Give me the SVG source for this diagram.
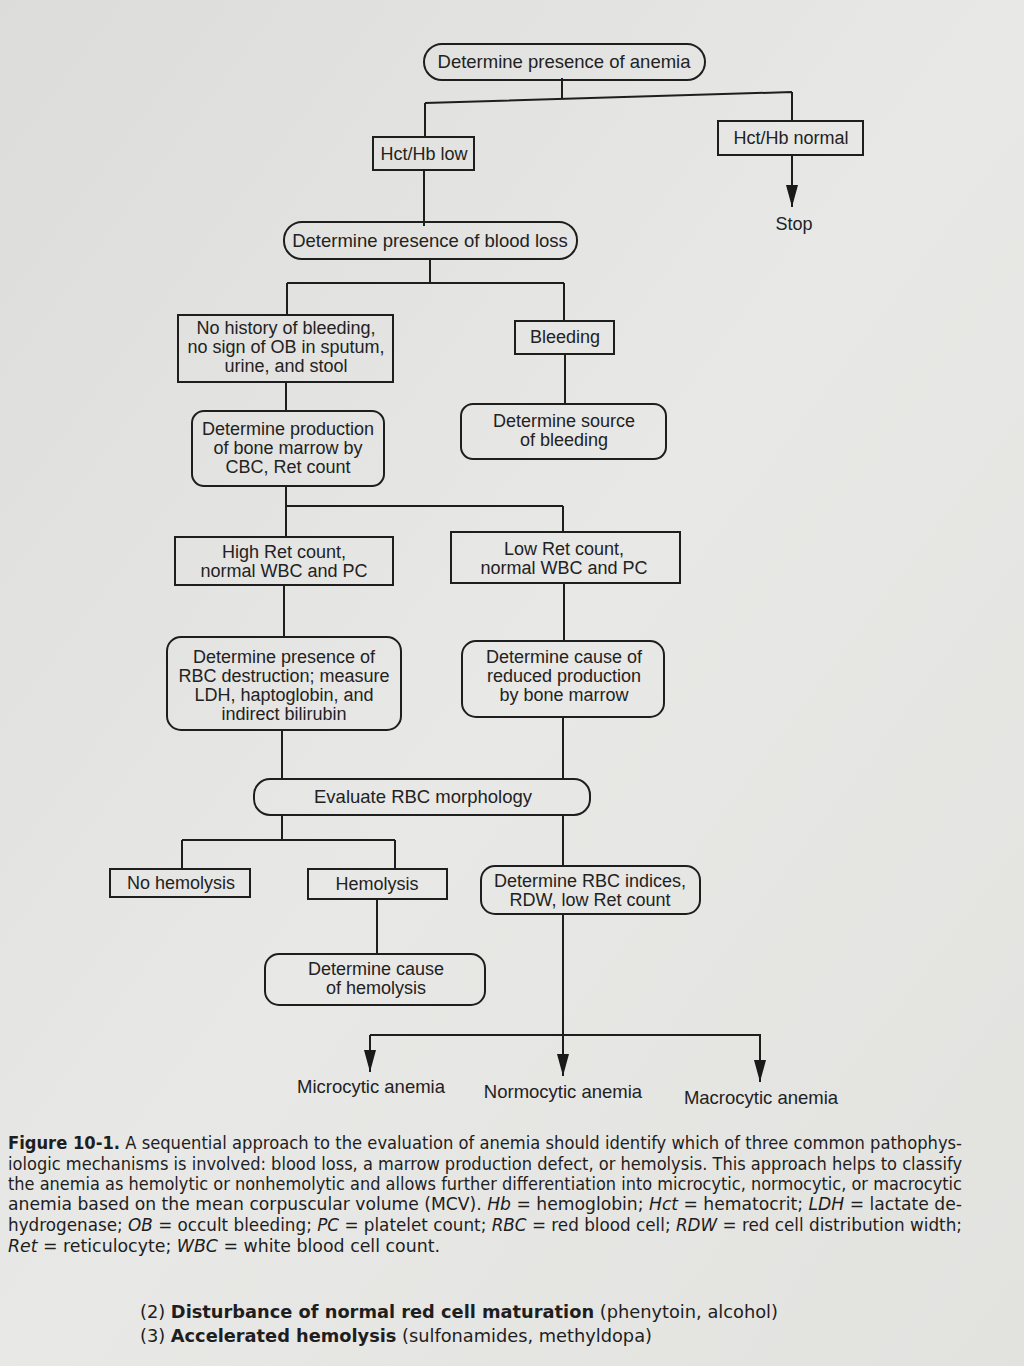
<svg xmlns="http://www.w3.org/2000/svg" width="1024" height="1366" viewBox="0 0 1024 1366">
<defs>
<linearGradient id="bg" x1="0" y1="0" x2="1" y2="1">
<stop offset="0" stop-color="#dcdcda"/>
<stop offset="0.5" stop-color="#e8e8e6"/>
<stop offset="1" stop-color="#e2e2df"/>
</linearGradient>
<marker id="arr" viewBox="0 0 22 12" refX="22" refY="6" markerWidth="22" markerHeight="12" markerUnits="userSpaceOnUse" orient="auto">
<path d="M0,0 L22,6 L0,12 Z" fill="#1a1a1a"/>
</marker>
<style>
.box{fill:none;stroke:#1e1e1e;stroke-width:2}
.t{font-family:"Liberation Sans",Arial,sans-serif;font-size:18px;fill:#222;text-anchor:middle}
.s{font-size:18.5px}
.c{fill:none;stroke:#1e1e1e;stroke-width:2}
.cap{font-family:"Liberation Sans Narrow","DejaVu Sans Condensed","Liberation Sans",sans-serif;font-size:17.5px;fill:#1e1e1e}
.b{font-weight:bold}
.i{font-style:italic}
</style>
</defs>
<rect width="1024" height="1366" fill="url(#bg)"/>

<g id="connectors">
<path class="c" d="M562,78 V100 M425,103 L792,92 M425,103 V137 M792,92 V121"/>
<path class="c" d="M792,155 V207" marker-end="url(#arr)"/>
<path class="c" d="M424,170 V226"/>
<path class="c" d="M430,259 V283 M287,283 H564 M287,283 V315 M564,283 V321"/>
<path class="c" d="M565,354 V404"/>
<path class="c" d="M286,382 V411"/>
<path class="c" d="M286,486 V506 M286,506 H563 M286,506 V537 M563,506 V532"/>
<path class="c" d="M284,585 V637"/>
<path class="c" d="M564,583 V641"/>
<path class="c" d="M282,730 V779 M563,717 V779"/>
<path class="c" d="M282,815 V840 M182,840 H395 M182,840 V869 M395,840 V869"/>
<path class="c" d="M563,815 V866"/>
<path class="c" d="M377,899 V954"/>
<path class="c" d="M563,914 V1038 M370,1035 H760 V1042"/>
<path class="c" d="M370,1035 V1072" marker-end="url(#arr)"/>
<path class="c" d="M563,1038 V1076" marker-end="url(#arr)"/>
<path class="c" d="M760,1040 V1082" marker-end="url(#arr)"/>
</g>

<g id="n-anemia"><rect class="box" x="424" y="44" width="281" height="36" rx="18"/><text class="t s" x="564" y="68">Determine presence of anemia</text></g>
<g id="n-low"><rect class="box" x="373" y="137" width="101" height="33"/><text class="t" x="424" y="160">Hct/Hb low</text></g>
<g id="n-normal"><rect class="box" x="718" y="121" width="145" height="34"/><text class="t" x="791" y="144">Hct/Hb normal</text></g>
<g id="n-stop"><text class="t" x="794" y="230">Stop</text></g>
<g id="n-bloodloss"><rect class="box" x="284" y="222" width="293" height="37" rx="18"/><text class="t s" x="430" y="247">Determine presence of blood loss</text></g>
<g id="n-nohistory"><rect class="box" x="178" y="315" width="215" height="67"/><text class="t" x="286" y="334">No history of bleeding,</text><text class="t" x="286" y="353">no sign of OB in sputum,</text><text class="t" x="286" y="372">urine, and stool</text></g>
<g id="n-bleeding"><rect class="box" x="515" y="321" width="99" height="33"/><text class="t" x="565" y="343">Bleeding</text></g>
<g id="n-source"><rect class="box" x="461" y="404" width="205" height="55" rx="12"/><text class="t" x="564" y="427">Determine source</text><text class="t" x="564" y="446">of bleeding</text></g>
<g id="n-production"><rect class="box" x="192" y="411" width="192" height="75" rx="12"/><text class="t" x="288" y="435">Determine production</text><text class="t" x="288" y="454">of bone marrow by</text><text class="t" x="288" y="473">CBC, Ret count</text></g>
<g id="n-highret"><rect class="box" x="175" y="537" width="218" height="48"/><text class="t" x="284" y="558">High Ret count,</text><text class="t" x="284" y="577">normal WBC and PC</text></g>
<g id="n-lowret"><rect class="box" x="451" y="532" width="229" height="51"/><text class="t" x="564" y="555">Low Ret count,</text><text class="t" x="564" y="574">normal WBC and PC</text></g>
<g id="n-destruction"><rect class="box" x="167" y="637" width="234" height="93" rx="14"/><text class="t" x="284" y="663">Determine presence of</text><text class="t" x="284" y="682">RBC destruction; measure</text><text class="t" x="284" y="701">LDH, haptoglobin, and</text><text class="t" x="284" y="720">indirect bilirubin</text></g>
<g id="n-reduced"><rect class="box" x="462" y="641" width="202" height="76" rx="14"/><text class="t" x="564" y="663">Determine cause of</text><text class="t" x="564" y="682">reduced production</text><text class="t" x="564" y="701">by bone marrow</text></g>
<g id="n-morph"><rect class="box" x="254" y="779" width="336" height="36" rx="16"/><text class="t s" x="423" y="803">Evaluate RBC morphology</text></g>
<g id="n-nohemo"><rect class="box" x="110" y="869" width="140" height="28"/><text class="t" x="181" y="889">No hemolysis</text></g>
<g id="n-hemo"><rect class="box" x="308" y="869" width="139" height="30"/><text class="t" x="377" y="890">Hemolysis</text></g>
<g id="n-indices"><rect class="box" x="481" y="866" width="219" height="48" rx="14"/><text class="t" x="590" y="887">Determine RBC indices,</text><text class="t" x="590" y="906">RDW, low Ret count</text></g>
<g id="n-causehemo"><rect class="box" x="265" y="954" width="220" height="51" rx="14"/><text class="t" x="376" y="975">Determine cause</text><text class="t" x="376" y="994">of hemolysis</text></g>
<g id="n-micro"><text class="t s" x="371" y="1093">Microcytic anemia</text></g>
<g id="n-normo"><text class="t s" x="563" y="1098">Normocytic anemia</text></g>
<g id="n-macro"><text class="t s" x="761" y="1104">Macrocytic anemia</text></g>

<g id="caption">
<text class="cap" x="8" y="1149" textLength="954" lengthAdjust="spacingAndGlyphs"><tspan class="b">Figure 10-1.</tspan> A sequential approach to the evaluation of anemia should identify which of three common pathophys-</text>
<text class="cap" x="8" y="1170" textLength="954" lengthAdjust="spacingAndGlyphs">iologic mechanisms is involved: blood loss, a marrow production defect, or hemolysis. This approach helps to classify</text>
<text class="cap" x="8" y="1190" textLength="954" lengthAdjust="spacingAndGlyphs">the anemia as hemolytic or nonhemolytic and allows further differentiation into microcytic, normocytic, or macrocytic</text>
<text class="cap" x="8" y="1210" textLength="954" lengthAdjust="spacingAndGlyphs">anemia based on the mean corpuscular volume (MCV). <tspan class="i">Hb</tspan> = hemoglobin; <tspan class="i">Hct</tspan> = hematocrit; <tspan class="i">LDH</tspan> = lactate de-</text>
<text class="cap" x="8" y="1231" textLength="954" lengthAdjust="spacingAndGlyphs">hydrogenase; <tspan class="i">OB</tspan> = occult bleeding; <tspan class="i">PC</tspan> = platelet count; <tspan class="i">RBC</tspan> = red blood cell; <tspan class="i">RDW</tspan> = red cell distribution width;</text>
<text class="cap" x="8" y="1252" textLength="432" lengthAdjust="spacingAndGlyphs"><tspan class="i">Ret</tspan> = reticulocyte; <tspan class="i">WBC</tspan> = white blood cell count.</text>
</g>
<g id="body-text">
<text class="cap" x="140" y="1318" font-size="21" textLength="638" lengthAdjust="spacingAndGlyphs">(2)  <tspan class="b">Disturbance of normal red cell maturation</tspan> (phenytoin, alcohol)</text>
<text class="cap" x="140" y="1342" font-size="21" textLength="512" lengthAdjust="spacingAndGlyphs">(3)  <tspan class="b">Accelerated hemolysis</tspan> (sulfonamides, methyldopa)</text>
</g>
</svg>
